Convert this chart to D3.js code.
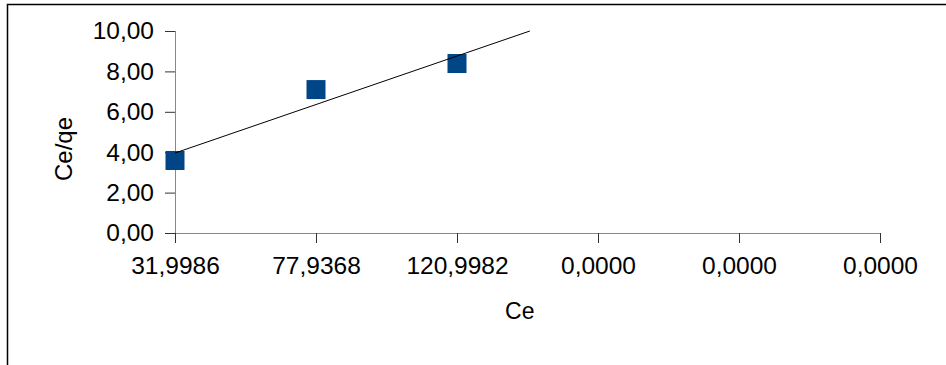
<!DOCTYPE html>
<html>
<head>
<meta charset="utf-8">
<script src="https://cdn.jsdelivr.net/npm/d3@7"></script>
<style>
  body { margin: 0; background: #fff; }
  svg { display: block; font-family: "Liberation Sans", Arial, sans-serif; }
</style>
</head>
<body>
<svg id="chart"></svg>
<script>
// Data
const categories = ['31,9986', '77,9368', '120,9982', '0,0000', '0,0000', '0,0000'];
const ceqe = [3.59, 7.10, 8.39];
const yTicks = [0, 2, 4, 6, 8, 10];

const width = 946, height = 365;
const margin = { top: 31, right: 66, bottom: 132, left: 175 };
const innerWidth = width - margin.left - margin.right;
const innerHeight = height - margin.top - margin.bottom;
const fontSize = '24.5px';

const svg = d3.select('#chart')
  .attr('width', width)
  .attr('height', height);

// Outer frame (only top and left edges visible)
svg.append('path')
  .attr('d', `M7.5,${height} V4.5 H${width}`)
  .attr('fill', 'none')
  .attr('stroke', '#000')
  .attr('stroke-width', 1.5);

const chart = svg.append('g')
  .attr('transform', `translate(${margin.left}, ${margin.top})`);

const idx = d3.range(categories.length);
const xScale = d3.scaleLinear()
  .domain([0, categories.length - 1])
  .range([0, innerWidth]);

const yScale = d3.scaleLinear()
  .domain([0, 10])
  .range([innerHeight, 0]);

const fmt = d => d.toFixed(2).replace('.', ',');

// Y axis
const yAxis = chart.append('g')
  .call(d3.axisLeft(yScale).tickValues(yTicks).tickFormat(fmt).tickSize(10).tickPadding(11));
yAxis.selectAll('text').style('font-size', fontSize).style('fill', '#000');
yAxis.selectAll('.tick line').style('stroke', '#333');
yAxis.select('.domain').style('stroke', '#888').attr('d', `M0.5,0V${innerHeight}`);

// X axis
const xAxis = chart.append('g')
  .attr('transform', `translate(0, ${innerHeight})`)
  .call(d3.axisBottom(xScale).tickValues(idx).tickFormat(i => categories[i]).tickSize(10).tickPadding(14));
xAxis.selectAll('text').style('font-size', fontSize).style('fill', '#000');
xAxis.selectAll('.tick line').style('stroke', '#333');
xAxis.select('.domain').style('stroke', '#888').attr('d', `M0,0.5H${innerWidth}`);

// Axis titles
chart.append('text')
  .attr('x', xScale(2.445))
  .attr('y', 319 - margin.top)
  .attr('text-anchor', 'middle')
  .style('font-size', '23px')
  .text('Ce');

chart.append('text')
  .attr('transform', 'rotate(-90)')
  .attr('x', -(149 - margin.top))
  .attr('y', 72 - margin.left)
  .attr('text-anchor', 'middle')
  .style('font-size', '24px')
  .text('Ce/qe');

// Linear trend line (least squares over category index)
const xs = ceqe.map((d, i) => i);
const mx = d3.mean(xs), my = d3.mean(ceqe);
const slope = d3.sum(xs, (x, i) => (x - mx) * (ceqe[i] - my)) / d3.sum(xs, x => (x - mx) ** 2);
const intercept = my - slope * mx;
const xEnd = (yScale.domain()[1] - intercept) / slope;

// Points
chart.append('g')
  .selectAll('rect')
  .data(ceqe)
  .enter()
  .append('rect')
  .attr('x', (d, i) => xScale(i) - 9.5)
  .attr('y', d => yScale(d) - 9.5)
  .attr('width', 19)
  .attr('height', 19)
  .attr('fill', '#004586');

chart.append('line')
  .attr('x1', xScale(0))
  .attr('y1', yScale(intercept))
  .attr('x2', xScale(xEnd))
  .attr('y2', yScale(intercept + slope * xEnd))
  .attr('stroke', '#000')
  .attr('stroke-width', 1);
</script>
</body>
</html>
